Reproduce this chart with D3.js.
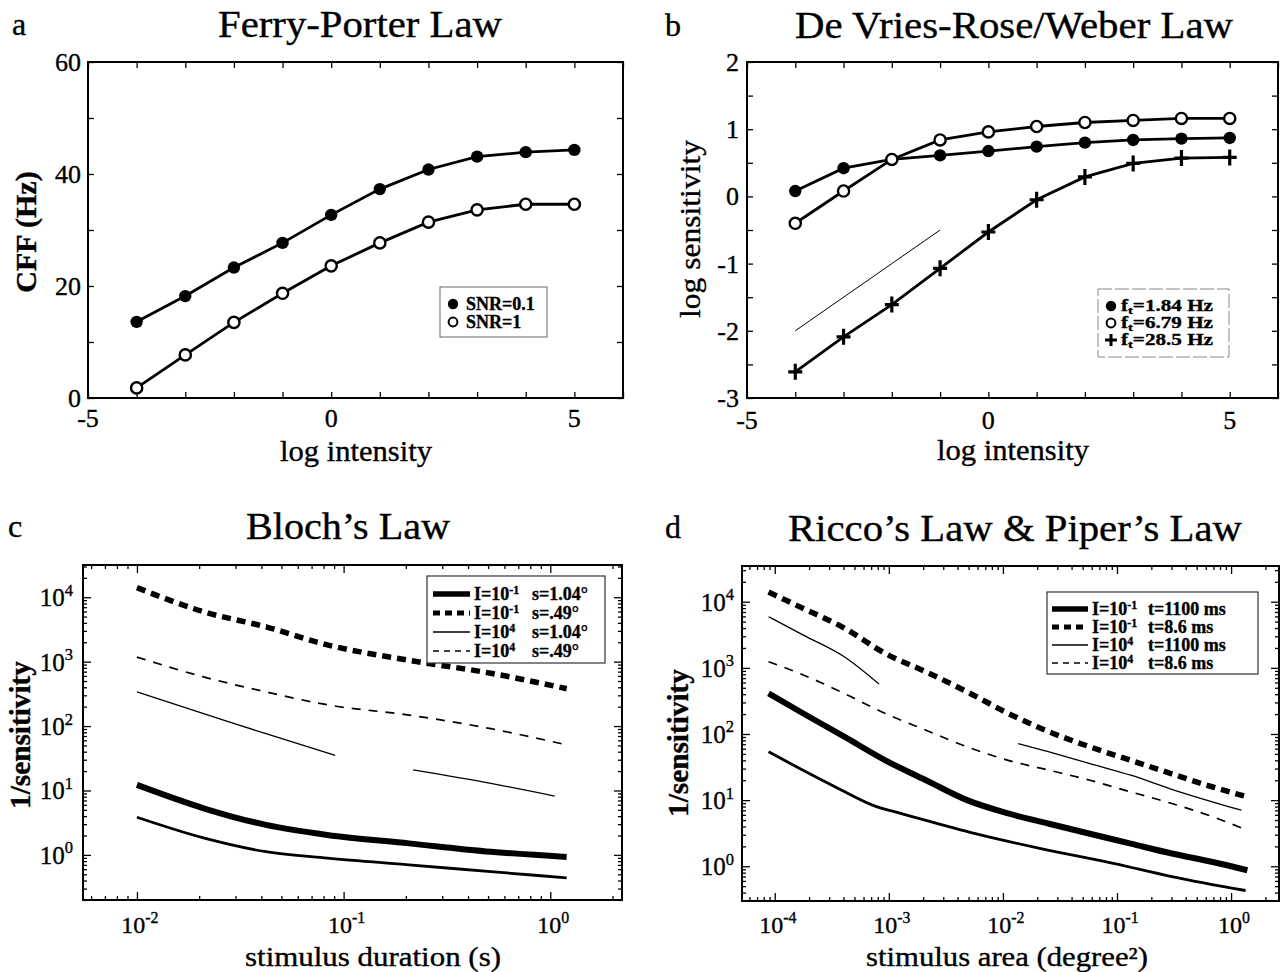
<!DOCTYPE html>
<html><head><meta charset="utf-8">
<script src="https://cdn.jsdelivr.net/npm/d3@7"></script>
<style>
body{margin:0;background:#fff;}
svg{display:block;}
text{font-family:"Liberation Serif","Times New Roman",serif;fill:#000;stroke:#000;stroke-width:0.35px;}
</style></head><body>
<svg id="chart" width="1284" height="972"></svg>
<script>
// ---------------- DATA ----------------
// Panel a: Ferry-Porter law
const logIntensity = [-4,-3,-2,-1,0,1,2,3,4,5];
const cffSNR01 = [13.6,18.2,23.3,27.7,32.7,37.3,40.8,43.1,43.9,44.3];
const cffSNR1  = [1.8,7.7,13.5,18.7,23.6,27.7,31.4,33.6,34.6,34.6];
const ticksA_y = [0,20,40,60];
const ticksA_x = [-5,0,5];

// Panel b: De Vries-Rose / Weber law
const sensF184 = [0.08,0.42,0.55,0.61,0.675,0.74,0.80,0.84,0.86,0.87];
const sensF679 = [-0.40,0.08,0.55,0.84,0.96,1.04,1.10,1.13,1.16,1.16];
const sensF285 = [-2.61,-2.09,-1.61,-1.07,-0.53,-0.05,0.29,0.49,0.57,0.58];
const slopeLineX = [-4,-1];
const slopeLineY = [-2,-0.5];
const ticksB_y = [-3,-2,-1,0,1,2];
const ticksB_x = [-5,0,5];

// Panel c: Bloch's law (x = stimulus duration, s)
const durC = [0.010,0.0212,0.0421,0.0834,0.207,0.516,1.2];
const blochThickSolid = [12.2,5.25,2.92,2.04,1.51,1.12,0.93];
const blochThickDash  = [14100,5900,3470,1820,1050,660,380];
const blochThinDash   = [1175,575,339,214,148,91,51];
const blochMedSolid   = [3.84,1.82,1.12,0.89,0.70,0.55,0.44];
const durCThin1 = [0.010,0.0212,0.0421,0.091];
const blochThin1 = [339,155,76,35];
const durCThin2 = [0.217,0.516,1.05];
const blochThin2 = [20.9,12.9,8.2];
const decadesC_x = [-2,-1,0];
const decadesC_y = [0,1,2,3,4];

// Panel d: Ricco's & Piper's law (x = stimulus area, degree^2)
const areaD = [8.83e-5,1.78e-4,4.07e-4,9.31e-4,2.12e-3,4.85e-3,0.0111,0.0254,0.0578,0.132,0.302,0.690,1.39];
const riccoThickDash  = [14000,7900,4000,1650,870,435,205,108,64,40,25,15.8,11.2];
const riccoThickSolid = [410,204,91,40,20,10,6.3,4.4,3.1,2.2,1.56,1.16,0.87];
const riccoThinDash   = [1240,780,410,204,114,64,40,28.4,20,13.3,8.9,5.6,3.5];
const areaDMed = [8.83e-5,3.18e-4,7.89e-4,1.29e-3,5.73e-3,0.0215,0.095,0.302,1.34];
const riccoMedSolid = [53.7,16.8,7.9,6.27,3.12,1.85,1.10,0.70,0.43];
const areaDThin1 = [8.83e-5,1.78e-4,4.07e-4,8.2e-4];
const riccoThin1 = [5930,3130,1470,568];
const areaDThin2 = [0.0136,0.0254,0.0578,0.132,0.302,1.23];
const riccoThin2 = [71.8,53.7,35.8,23.8,14.6,7.03];
const decadesD_x = [-4,-3,-2,-1,0];
const decadesD_y = [0,1,2,3,4];

// ---------------- DRAWING ----------------
const svg = d3.select("#chart");

function text(x, y, str, size, opts = {}) {
  const t = svg.append("text").attr("x", x).attr("y", y)
    .attr("font-size", size)
    .attr("text-anchor", opts.anchor || "start")
    .attr("font-weight", opts.bold ? "bold" : "normal")
    .text(str);
  if (opts.width) t.attr("textLength", opts.width).attr("lengthAdjust", "spacingAndGlyphs");
  if (opts.rotate) t.attr("transform", `rotate(-90,${x},${y})`);
  return t;
}

function frame(b) {
  svg.append("rect").attr("x", b.l).attr("y", b.t)
    .attr("width", b.r - b.l).attr("height", b.b - b.t)
    .attr("fill", "none").attr("stroke", "#000").attr("stroke-width", 2);
}

function styleAxis(g) {
  g.select(".domain").remove();
  g.selectAll(".tick line").attr("stroke", "#000").attr("stroke-width", 1.3);
  g.attr("font-family", null).attr("font-size", null);
}

function linearAxes(b, x, y, xt, yt) {
  const pos = [
    [d3.axisBottom(x), `translate(0,${b.b})`, xt],
    [d3.axisTop(x), `translate(0,${b.t})`, xt],
    [d3.axisLeft(y), `translate(${b.l},0)`, yt],
    [d3.axisRight(y), `translate(${b.r},0)`, yt]];
  pos.forEach(([ax, tr, tv]) => {
    svg.append("g").attr("transform", tr)
      .call(ax.tickValues(tv).tickSize(-6).tickFormat(""))
      .call(styleAxis);
  });
}

function logTickValues(scale) {
  const [a, c] = scale.domain();
  const out = [];
  for (let e = Math.floor(Math.log10(a)); e <= Math.ceil(Math.log10(c)); e++) {
    for (let m = 1; m <= 9; m++) {
      const v = m * Math.pow(10, e);
      if (v >= a && v <= c) out.push(v);
    }
  }
  return out;
}

function logAxes(b, x, y) {
  const xs = logTickValues(x), ys = logTickValues(y);
  const isMajor = v => Math.abs(Math.log10(v) - Math.round(Math.log10(v))) < 1e-6;
  const defs = [
    [d3.axisBottom, x, `translate(0,${b.b})`, xs],
    [d3.axisTop, x, `translate(0,${b.t})`, xs],
    [d3.axisLeft, y, `translate(${b.l},0)`, ys],
    [d3.axisRight, y, `translate(${b.r},0)`, ys]];
  defs.forEach(([axf, sc, tr, tv]) => {
    const g = svg.append("g").attr("transform", tr)
      .call(axf(sc).tickValues(tv).tickSize(-4).tickFormat(""))
      .call(styleAxis);
    g.selectAll(".tick line").filter(d => isMajor(d))
      .each(function() {
        const l = d3.select(this);
        if (l.attr("x2") !== null && +l.attr("x2") !== 0) l.attr("x2", +l.attr("x2") * 2);
        if (l.attr("y2") !== null && +l.attr("y2") !== 0) l.attr("y2", +l.attr("y2") * 2);
      });
  });
}

function sciLabel(x, y, exp, size, anchor) {
  const t = svg.append("text").attr("x", x).attr("y", y)
    .attr("font-size", size).attr("text-anchor", anchor);
  t.append("tspan").text("10");
  t.append("tspan").attr("dy", -size * 0.42).attr("font-size", size * 0.66).text(exp);
  return t;
}

function pairs(xs, ys) { return xs.map((v, i) => [v, ys[i]]); }

// ===== Panel a =====
const bA = {l: 88, t: 62, r: 623, b: 398};
const xA = d3.scaleLinear().domain([-5, 6]).range([bA.l, bA.r]);
const yA = d3.scaleLinear().domain([0, 60]).range([bA.b, bA.t]);
frame(bA);
linearAxes(bA, xA, yA, d3.range(-5, 7), d3.range(0, 61, 10));
ticksA_x.forEach(v => text(xA(v), 427, String(v), 26, {anchor: "middle"}));
ticksA_y.forEach(v => text(bA.l - 7, yA(v) + 9, String(v), 26, {anchor: "end"}));
text(12, 35, "a", 32);
text(360, 37, "Ferry-Porter Law", 37, {anchor: "middle", width: 284});
text(356, 461, "log intensity", 29, {anchor: "middle", width: 152});
text(36, 232, "CFF (Hz)", 30, {anchor: "middle", bold: true, rotate: true});

const lineA = d3.line().x(d => xA(d[0])).y(d => yA(d[1]));
[cffSNR01, cffSNR1].forEach(s => {
  svg.append("path").datum(pairs(logIntensity, s)).attr("d", lineA)
    .attr("fill", "none").attr("stroke", "#000").attr("stroke-width", 2.8);
});
svg.append("g").selectAll("circle").data(pairs(logIntensity, cffSNR01)).join("circle")
  .attr("cx", d => xA(d[0])).attr("cy", d => yA(d[1])).attr("r", 6.2).attr("fill", "#000");
svg.append("g").selectAll("circle").data(pairs(logIntensity, cffSNR1)).join("circle")
  .attr("cx", d => xA(d[0])).attr("cy", d => yA(d[1])).attr("r", 5.6)
  .attr("fill", "#fff").attr("stroke", "#000").attr("stroke-width", 2.4);
// legend a
svg.append("rect").attr("x", 440).attr("y", 287).attr("width", 107).attr("height", 50)
  .attr("fill", "#fff").attr("stroke", "#666").attr("stroke-width", 1);
svg.append("circle").attr("cx", 453).attr("cy", 304).attr("r", 5.2).attr("fill", "#000");
svg.append("circle").attr("cx", 453).attr("cy", 322).attr("r", 4.4).attr("fill", "#fff").attr("stroke", "#000").attr("stroke-width", 2);
text(466, 310, "SNR=0.1", 18, {bold: true});
text(466, 328, "SNR=1", 18, {bold: true});

// ===== Panel b =====
const bB = {l: 747, t: 62, r: 1278, b: 398};
const xB = d3.scaleLinear().domain([-5, 6]).range([bB.l, bB.r]);
const yB = d3.scaleLinear().domain([-3, 2]).range([bB.b, bB.t]);
frame(bB);
linearAxes(bB, xB, yB, d3.range(-5, 7), d3.range(-3, 2.01, 0.5));
ticksB_x.forEach(v => text(xB(v), 429, String(v), 26, {anchor: "middle"}));
ticksB_y.forEach(v => text(bB.l - 8, yB(v) + 9, String(v), 26, {anchor: "end"}));
text(665, 36, "b", 32);
text(1014, 38, "De Vries-Rose/Weber Law", 37, {anchor: "middle", width: 438});
text(1013, 460, "log intensity", 29, {anchor: "middle", width: 152});
text(700, 229, "log sensitivity", 30, {anchor: "middle", rotate: true, width: 178});

const lineB = d3.line().x(d => xB(d[0])).y(d => yB(d[1]));
svg.append("path").datum(pairs(slopeLineX, slopeLineY)).attr("d", lineB)
  .attr("fill", "none").attr("stroke", "#000").attr("stroke-width", 1);
[sensF184, sensF679, sensF285].forEach(s => {
  svg.append("path").datum(pairs(logIntensity, s)).attr("d", lineB)
    .attr("fill", "none").attr("stroke", "#000").attr("stroke-width", 2.8);
});
svg.append("g").selectAll("circle").data(pairs(logIntensity, sensF184)).join("circle")
  .attr("cx", d => xB(d[0])).attr("cy", d => yB(d[1])).attr("r", 6.2).attr("fill", "#000");
svg.append("g").selectAll("circle").data(pairs(logIntensity, sensF679)).join("circle")
  .attr("cx", d => xB(d[0])).attr("cy", d => yB(d[1])).attr("r", 5.6)
  .attr("fill", "#fff").attr("stroke", "#000").attr("stroke-width", 2.4);
svg.append("g").selectAll("path").data(pairs(logIntensity, sensF285)).join("path")
  .attr("transform", d => `translate(${xB(d[0])},${yB(d[1])})`)
  .attr("d", "M-7,0H7M0,-8V8").attr("stroke", "#000").attr("stroke-width", 3.2).attr("fill", "none");
// legend b
svg.append("rect").attr("x", 1098).attr("y", 289).attr("width", 131).attr("height", 68)
  .attr("fill", "#fff").attr("stroke", "#888").attr("stroke-width", 1).attr("stroke-dasharray", "14,3");
svg.append("circle").attr("cx", 1111).attr("cy", 306).attr("r", 5.2).attr("fill", "#000");
svg.append("circle").attr("cx", 1111).attr("cy", 323).attr("r", 4.4).attr("fill", "#fff").attr("stroke", "#000").attr("stroke-width", 2);
svg.append("path").attr("transform", "translate(1111,340)").attr("d", "M-6,0H6M0,-6V6")
  .attr("stroke", "#000").attr("stroke-width", 3);
const legB = [["1.84 Hz", 311], ["6.79 Hz", 328], ["28.5 Hz", 345]];
legB.forEach(([s, y]) => {
  const t = svg.append("text").attr("x", 1121).attr("y", y).attr("font-size", 16).attr("font-weight", "bold");
  t.append("tspan").text("f");
  t.append("tspan").attr("font-size", 11).attr("dy", 3).text("t");
  t.append("tspan").attr("dy", -3).text("=" + s);
  t.attr("textLength", 92).attr("lengthAdjust", "spacingAndGlyphs");
});

// ===== Panel c =====
const bC = {l: 83, t: 565, r: 622, b: 900};
const xC = d3.scaleLog().domain([Math.pow(10, -2.261), Math.pow(10, 0.347)]).range([bC.l, bC.r]);
const yC = d3.scaleLog().domain([Math.pow(10, -0.70), Math.pow(10, 4.50)]).range([bC.b, bC.t]);
frame(bC);
logAxes(bC, xC, yC);
decadesC_x.forEach(e => sciLabel(xC(Math.pow(10, e)) + 3, 933, String(e), 24, "middle"));
decadesC_y.forEach(e => sciLabel(bC.l - 10, yC(Math.pow(10, e)) + 9, String(e), 25, "end"));
text(8, 537, "c", 32);
text(348, 539, "Bloch\u2019s Law", 37, {anchor: "middle", width: 204});
text(373, 966, "stimulus duration (s)", 27, {anchor: "middle", width: 256});
text(30, 735, "1/sensitivity", 29, {anchor: "middle", bold: true, rotate: true, width: 148});

const lineC = d3.line().x(d => xC(d[0])).y(d => yC(d[1])).curve(d3.curveMonotoneX);
function drawSeries(lineFn, xs, ys, w, dash) {
  const p = svg.append("path").datum(pairs(xs, ys)).attr("d", lineFn)
    .attr("fill", "none").attr("stroke", "#000").attr("stroke-width", w);
  if (dash) p.attr("stroke-dasharray", dash);
  return p;
}
drawSeries(lineC, durC, blochThickDash, 5.5, "9,6");
drawSeries(lineC, durC, blochThinDash, 1.7, "9,8");
drawSeries(lineC, durCThin1, blochThin1, 1.3);
drawSeries(lineC, durCThin2, blochThin2, 1.3);
drawSeries(lineC, durC, blochThickSolid, 6);
drawSeries(lineC, durC, blochMedSolid, 2.8);

// legend c
function legendLines(x0, y0, w, h, rows, lineX1, lineX2, textX, secondX, size) {
  svg.append("rect").attr("x", x0).attr("y", y0).attr("width", w).attr("height", h)
    .attr("fill", "#fff").attr("stroke", "#333").attr("stroke-width", 1.2);
  rows.forEach(r => {
    const l = svg.append("line").attr("x1", lineX1).attr("x2", lineX2).attr("y1", r.y).attr("y2", r.y)
      .attr("stroke", "#000").attr("stroke-width", r.w);
    if (r.dash) l.attr("stroke-dasharray", r.dash);
    const t = svg.append("text").attr("x", textX).attr("y", r.y + 6).attr("font-size", size).attr("font-weight", "bold");
    t.append("tspan").text("I=10");
    t.append("tspan").attr("dy", -6).attr("font-size", size * 0.66).text(r.exp);
    t.append("tspan").attr("dy", 6).attr("x", secondX).text(r.tail);
  });
}
legendLines(427, 576, 178, 87, [
  {y: 594, w: 5.5, exp: "-1", tail: "s=1.04\u00b0"},
  {y: 613, w: 5, dash: "7,5", exp: "-1", tail: "s=.49\u00b0"},
  {y: 632, w: 1.6, exp: "4", tail: "s=1.04\u00b0"},
  {y: 651, w: 1.6, dash: "6,5", exp: "4", tail: "s=.49\u00b0"}
], 433, 470, 474, 532, 18);

// ===== Panel d =====
const bD = {l: 742, t: 566, r: 1279, b: 901};
const xD = d3.scaleLog().domain([Math.pow(10, -4.287), Math.pow(10, 0.42)]).range([bD.l, bD.r]);
const yD = d3.scaleLog().domain([Math.pow(10, -0.525), Math.pow(10, 4.54)]).range([bD.b, bD.t]);
frame(bD);
logAxes(bD, xD, yD);
decadesD_x.forEach(e => sciLabel(xD(Math.pow(10, e)) + 3, 933, String(e), 24, "middle"));
decadesD_y.forEach(e => sciLabel(bD.l - 8, yD(Math.pow(10, e)) + 9, String(e), 25, "end"));
text(665, 538, "d", 32);
text(1015, 541, "Ricco\u2019s Law & Piper\u2019s Law", 37, {anchor: "middle", width: 454});
text(1007, 966, "stimulus area (degree\u00b2)", 27, {anchor: "middle", width: 282});
text(688, 743, "1/sensitivity", 29, {anchor: "middle", bold: true, rotate: true, width: 148});

const lineD = d3.line().x(d => xD(d[0])).y(d => yD(d[1])).curve(d3.curveMonotoneX);
drawSeries(lineD, areaD, riccoThickDash, 5.5, "9,6");
drawSeries(lineD, areaD, riccoThinDash, 1.7, "9,8");
drawSeries(lineD, areaDThin1, riccoThin1, 1.3);
drawSeries(lineD, areaDThin2, riccoThin2, 1.3);
drawSeries(lineD, areaD, riccoThickSolid, 6);
drawSeries(lineD, areaDMed, riccoMedSolid, 2.8);

legendLines(1047, 592, 211, 82, [
  {y: 609, w: 5.5, exp: "-1", tail: "t=1100 ms"},
  {y: 627, w: 5, dash: "7,5", exp: "-1", tail: "t=8.6 ms"},
  {y: 645, w: 1.6, exp: "4", tail: "t=1100 ms"},
  {y: 663, w: 1.6, dash: "6,5", exp: "4", tail: "t=8.6 ms"}
], 1052, 1088, 1092, 1148, 18);
</script>
</body></html>
